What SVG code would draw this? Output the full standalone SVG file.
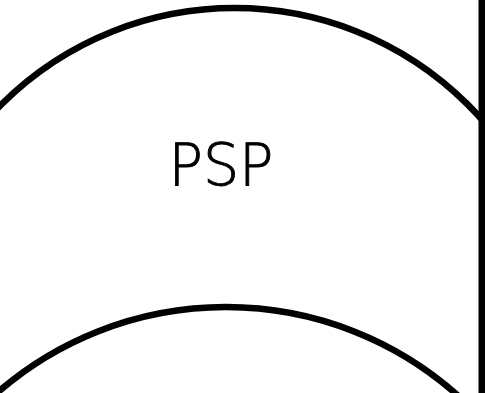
<svg xmlns="http://www.w3.org/2000/svg" width="485" height="393" viewBox="0 0 485 393">
<style>
.arc{fill:none;stroke:#000;stroke-width:6.5}
.lbl{font-family:"DejaVu Sans","Liberation Sans",sans-serif;font-weight:200;font-size:58px;fill:#000;stroke:#000;stroke-width:0.9}
</style>
<rect width="485" height="393" fill="#fff"/>
<g id="top-circle">
<circle class="arc" cx="234.5" cy="338" r="330"/>
<text class="lbl" x="221" y="185" text-anchor="middle" textLength="105" lengthAdjust="spacingAndGlyphs">PSP</text>
</g>
<g id="bottom-circle">
<circle class="arc" cx="226" cy="655" r="348"/>
</g>
<g id="edge">
<rect x="478.5" y="0" width="6.5" height="393" fill="#000"/>
</g>
</svg>
